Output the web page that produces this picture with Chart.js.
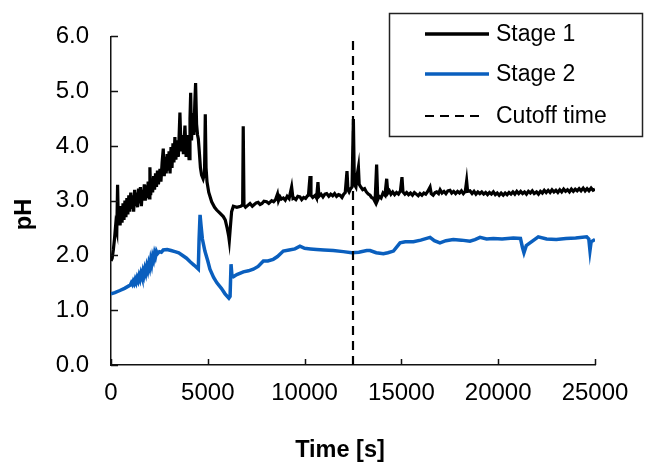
<!DOCTYPE html>
<html>
<head>
<meta charset="utf-8">
<script src="https://cdn.jsdelivr.net/npm/chart.js@4/dist/chart.umd.min.js"></script>
<style>
  html, body { margin: 0; padding: 0; background: #fff; }
  #wrap { width: 646px; height: 464px; }
</style>
</head>
<body>
<div id="wrap"><canvas id="c" width="646" height="464"></canvas></div>
<script>
// ---------- DATA ----------
const xTickLabels = [0, 5000, 10000, 15000, 20000, 25000];
const yTickLabels = ["0.0", "1.0", "2.0", "3.0", "4.0", "5.0", "6.0"];
const seriesNames = ["Stage 1", "Stage 2", "Cutoff time"];

const stage1Time = [0,60,120,180,240,300,340,380,430,470,520,570,620,670,720,770,820,870,920,970,1020,1070,1120,1170,1220,1270,1320,1370,1420,1470,1520,1570,1620,1670,1720,1770,1820,1870,1920,1970,2010,2050,2100,2150,2200,2250,2300,2350,2400,2450,2530,2580,2640,2700,2750,2800,2850,2900,2950,3000,3050,3100,3150,3200,3250,3300,3350,3420,3480,3560,3620,3680,3740,3820,3880,3950,4030,4080,4115,4160,4220,4280,4330,4370,4420,4470,4510,4560,4620,4680,4760,4830,4870,4910,4960,5050,5200,5350,5460,5600,5800,5900,6000,6080,6110,6150,6230,6320,6500,6700,6800,6830,
  6870,6950,7050,7180,7300,7400,7500,7600,7700,7800,7900,8040,8150,8300,8400,8500,8600,8650,8730,8800,8900,9000,9100,9200,9330,9400,9450,9550,9650,9760,9850,9950,10050,10150,10200,10280,10330,10420,10550,10620,10690,10740,10850,10950,11050,11140,11250,11350,11450,11550,11650,11750,11830,11930,12020,12100,12190,12240,12300,12380,12450,12520,12570,12650,12720,12780,12820,12900,13000,13100,13190,13290,13380,13450,13550,13640,13720,13780,13850,13950,14050,14150,14240,14300,14380,14460,14550,14650,14750,14850,14950,15030,15080,15180,15270,15370,15470,15570,15670,15770,15870,15960,16060,16160,16260,16360,16480,16540,16640,16740,16820,16920,17000,17100,17200,17300,17400,17510,17600,17700,17800,17900,18000,18100,18200,18300,18370,18420,18540,18650,18750,18850,18950,19050,19150,19250,19350,19450,19550,19650,19750,19850,19950,20050,20150,20260,20360,20460,20560,20660,20760,20860,20960,21060,21160,21260,21360,21460,21560,21660,21760,21860,21980,22080,22180,22280,22380,22480,22580,22680,22780,22880,22980,23080,23180,23280,23380,23480,23580,23680,23780,23880,23980,24080,24180,24280,24390,24490,24590,24690,24800,24900,25000];
const stage1PH = [1.90,1.95,2.10,2.30,2.55,2.45,3.29,2.60,2.85,2.55,2.90,2.60,2.95,2.65,3.00,2.70,3.05,2.75,3.10,2.80,3.15,2.85,3.10,2.80,3.20,2.90,3.15,2.88,3.22,2.95,3.25,2.90,3.20,3.00,3.30,3.00,3.28,3.05,3.35,3.05,3.61,3.10,3.40,3.15,3.45,3.20,3.50,3.25,3.55,3.30,3.58,3.35,3.70,3.95,3.45,3.80,3.50,3.85,3.55,3.90,3.50,3.98,3.60,4.05,3.70,4.16,3.75,4.10,3.80,4.61,3.90,4.20,3.85,4.37,3.80,4.20,3.77,4.50,4.97,4.10,4.60,4.20,4.80,5.15,4.40,4.20,4.13,3.90,3.60,3.47,3.40,3.50,4.58,3.60,3.34,3.15,2.98,2.88,2.83,2.78,2.71,2.65,2.50,2.35,2.27,2.45,2.80,2.90,2.88,2.90,2.92,4.36,
  2.92,2.88,2.91,2.95,2.90,2.93,2.96,2.97,2.93,2.95,2.99,2.98,2.95,3.00,2.98,3.02,3.12,3.00,3.07,3.03,3.05,3.01,3.08,3.04,3.25,3.04,3.05,3.02,3.08,3.07,3.02,3.06,3.04,3.09,3.10,3.45,3.10,3.06,3.10,3.05,3.34,3.08,3.12,3.07,3.12,3.13,3.08,3.12,3.09,3.13,3.08,3.11,3.10,3.06,3.12,3.15,3.54,3.20,3.16,3.22,3.25,4.49,3.30,3.25,3.48,3.61,3.30,3.25,3.20,3.22,3.16,3.12,3.10,3.06,3.04,2.98,3.66,3.02,3.08,3.05,3.14,3.10,3.40,3.14,3.18,3.12,3.16,3.11,3.15,3.12,3.18,3.43,3.16,3.12,3.15,3.11,3.14,3.10,3.15,3.12,3.09,3.13,3.10,3.14,3.12,3.17,3.25,3.13,3.10,3.15,3.16,3.13,3.20,3.14,3.17,3.13,3.18,3.19,3.14,3.17,3.13,3.17,3.14,3.18,3.13,3.17,3.36,3.17,3.18,3.13,3.17,3.12,3.16,3.13,3.16,3.12,3.15,3.11,3.15,3.12,3.16,3.11,3.14,3.10,3.14,3.10,3.14,3.11,3.15,3.12,3.16,3.12,3.17,3.13,3.17,3.13,3.16,3.12,3.17,3.14,3.18,3.13,3.16,3.12,3.17,3.14,3.19,3.15,3.19,3.15,3.20,3.16,3.19,3.15,3.20,3.16,3.21,3.17,3.20,3.16,3.21,3.17,3.21,3.18,3.22,3.18,3.23,3.18,3.22,3.18,3.23,3.19,3.21];

const stage2Time = [0,200,460,700,900,1000,1050,1100,1150,1200,1250,1300,1350,1400,1450,1500,1550,1600,1650,1700,1750,1800,1850,1900,1950,2000,2050,2100,2150,2200,2250,2300,2350,2400,2500,2600,2700,2900,3100,3300,3500,3700,3900,4100,4300,4510,4550,4600,4650,4720,4850,5000,5110,5300,5470,5700,5890,6090,6150,6200,6250,6320,6500,6840,7100,7350,7600,7870,8100,8380,8600,8900,9200,9500,9760,10000,10300,10620,11000,11480,12000,12430,12800,13210,13380,13700,14070,14300,14590,14930,15200,15620,16000,16480,16700,16990,17300,17680,18100,18540,18800,19060,19400,19750,20200,20780,21150,21250,21330,21450,21640,22070,22500,23000,23500,24000,24570,24680,24740,24800,25000];
const stage2PH = [1.30,1.32,1.36,1.40,1.44,1.46,1.50,1.47,1.53,1.49,1.56,1.51,1.59,1.54,1.63,1.57,1.67,1.61,1.71,1.64,1.75,1.68,1.80,1.73,1.85,1.78,1.92,1.84,1.98,1.92,2.04,1.98,2.07,2.03,2.07,2.06,2.10,2.11,2.09,2.07,2.05,2.00,1.95,1.88,1.82,1.75,2.30,2.74,2.55,2.30,2.08,1.90,1.75,1.60,1.50,1.40,1.30,1.22,1.25,1.84,1.62,1.61,1.65,1.70,1.72,1.75,1.80,1.90,1.90,1.93,1.98,2.08,2.10,2.12,2.17,2.13,2.12,2.11,2.10,2.09,2.07,2.05,2.06,2.09,2.09,2.05,2.03,2.05,2.08,2.23,2.25,2.25,2.28,2.33,2.27,2.23,2.27,2.29,2.28,2.26,2.29,2.33,2.30,2.31,2.30,2.32,2.31,2.15,2.05,2.18,2.23,2.34,2.30,2.29,2.31,2.32,2.34,2.30,2.09,2.25,2.29];

const cutoffTime = [12500, 12500];
const cutoffPH = [0, 6];

// ---------- BUILD ----------
const toPts = (xs, ys) => xs.map((x, i) => ({ x: x, y: ys[i] }));
const FONT = "'Liberation Sans', Arial, sans-serif";
const BLUE = "#0a5fbe";

const area = { left: 111, top: 33, right: 595, bottom: 365 };

const decor = {
  id: 'decor',
  afterDraw(chart) {
    const ctx = chart.ctx;
    const xs = chart.scales.x, ys = chart.scales.y;
    ctx.save();
    // inward tick marks
    ctx.strokeStyle = '#111';
    ctx.lineWidth = 1.5;
    ctx.beginPath();
    xTickLabels.forEach(v => {
      const px = Math.round(xs.getPixelForValue(v)) + 0.5;
      ctx.moveTo(px, ys.bottom);
      ctx.lineTo(px, ys.bottom - 6);
    });
    yTickLabels.forEach(l => {
      const py = Math.round(ys.getPixelForValue(parseFloat(l))) + 0.5;
      ctx.moveTo(xs.left, py);
      ctx.lineTo(xs.left + 7, py);
    });
    ctx.stroke();

    // axis titles
    ctx.fillStyle = '#000';
    ctx.font = "bold 23.5px " + FONT;
    ctx.textAlign = 'center';
    ctx.textBaseline = 'alphabetic';
    ctx.fillText('Time [s]', 340, 457);
    ctx.save();
    ctx.translate(31, 214.5);
    ctx.rotate(-Math.PI / 2);
    ctx.fillText('pH', 0, 0);
    ctx.restore();

    // legend box
    ctx.lineWidth = 1.5;
    ctx.strokeStyle = '#222';
    ctx.strokeRect(389.5, 13.5, 253, 123);
    const rows = [34, 74, 116];
    ctx.font = "23px " + FONT;
    ctx.textAlign = 'left';
    ctx.textBaseline = 'middle';
    chart.data.datasets.forEach((ds, i) => {
      ctx.save();
      ctx.strokeStyle = ds.borderColor;
      ctx.lineWidth = i === 2 ? 2.2 : 3.5;
      ctx.setLineDash(ds.borderDash || []);
      ctx.beginPath();
      ctx.moveTo(425, rows[i]);
      ctx.lineTo(i === 2 ? 484 : 489, rows[i]);
      ctx.stroke();
      ctx.restore();
      ctx.fillStyle = '#000';
      ctx.fillText(ds.label, 496, rows[i] + 1);
    });
    ctx.restore();
  }
};

new Chart(document.getElementById('c'), {
  type: 'line',
  data: {
    datasets: [
      { label: seriesNames[0], data: toPts(stage1Time, stage1PH), borderColor: '#000', borderWidth: 3.2, pointRadius: 0, tension: 0, order: 1 },
      { label: seriesNames[1], data: toPts(stage2Time, stage2PH), borderColor: BLUE, borderWidth: 3.5, pointRadius: 0, tension: 0, order: 2 },
      { label: seriesNames[2], data: toPts(cutoffTime, cutoffPH), borderColor: '#000', borderWidth: 2.2, borderDash: [9, 6], pointRadius: 0, tension: 0, order: 0 }
    ]
  },
  options: {
    responsive: false,
    animation: false,
    devicePixelRatio: 1,
    layout: { padding: { left: 0, top: area.top, right: 646 - area.right, bottom: 0 } },
    plugins: { legend: { display: false }, tooltip: { enabled: false } },
    scales: {
      x: {
        type: 'linear', min: 0, max: 25000,
        afterFit(s) { s.height = 464 - area.bottom; },
        afterBuildTicks(s) { s.ticks = xTickLabels.map(v => ({ value: v })); },
        grid: { display: false, drawTicks: false },
        border: { display: true, color: '#111', width: 1.5 },
        ticks: { color: '#000', font: { family: FONT, size: 24 }, padding: 14, maxRotation: 0, autoSkip: false,
                 callback: v => String(v) }
      },
      y: {
        type: 'linear', min: 0, max: 6,
        afterFit(s) { s.width = area.left; },
        afterBuildTicks(s) { s.ticks = yTickLabels.map(l => ({ value: parseFloat(l) })); },
        grid: { display: false, drawTicks: false },
        border: { display: true, color: '#111', width: 1.5 },
        ticks: { color: '#000', font: { family: FONT, size: 24 }, padding: 22,
                 callback: v => yTickLabels[Math.round(v)] }
      }
    }
  },
  plugins: [decor]
});
</script>
</body>
</html>
